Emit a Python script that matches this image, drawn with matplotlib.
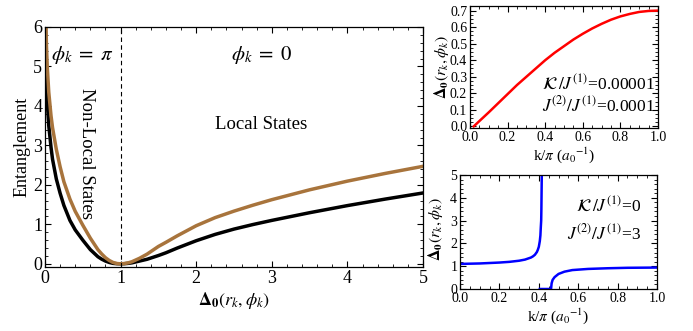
"""Entanglement vs Delta_0 (left) and Delta_0 dispersion for two couplings (right)."""

import matplotlib

matplotlib.use("Agg")
import matplotlib.pyplot as plt
from matplotlib.ticker import MultipleLocator

plt.rcParams["font.family"] = ["Liberation Serif", "DejaVu Serif"]
plt.rcParams["mathtext.fontset"] = "stix"

# Left panel: entanglement against Delta_0 for the two curves.
DELTA_B = [0.006, 0.01, 0.015, 0.02, 0.03, 0.05, 0.08, 0.1, 0.15, 0.2, 0.25, 0.33,
           0.4, 0.5, 0.6, 0.7, 0.75, 0.8, 0.85, 0.9, 0.95, 1.0, 1.05, 1.1, 1.15,
           1.25, 1.35, 1.5, 1.6, 1.75, 2.0, 2.25, 2.5, 2.75, 3.0, 3.5, 4.0, 4.5, 5.0]
E_BLACK = [6.1, 5.5, 5.0, 4.6, 4.1, 3.5, 2.95, 2.65, 2.15, 1.79, 1.48, 1.1,
           0.86, 0.6, 0.36, 0.18, 0.118, 0.07, 0.035, 0.012, 0.003, 0.0, 0.003, 0.012, 0.025,
           0.07, 0.115, 0.21, 0.28, 0.4, 0.585, 0.745, 0.88, 0.995, 1.1, 1.295, 1.475,
           1.64, 1.795]
DELTA_R = [0.012, 0.015, 0.02, 0.03, 0.05, 0.08, 0.1, 0.15, 0.2, 0.25, 0.33,
           0.4, 0.5, 0.6, 0.7, 0.75, 0.8, 0.85, 0.9, 0.95, 1.0, 1.05, 1.1, 1.15,
           1.25, 1.35, 1.5, 1.6, 1.75, 2.0, 2.25, 2.5, 2.75, 3.0, 3.5, 4.0, 4.5, 5.0]
E_BROWN = [6.15, 5.9, 5.5, 5.0, 4.35, 3.75, 3.45, 2.9, 2.46, 2.08, 1.64,
           1.33, 0.98, 0.65, 0.36, 0.25, 0.155, 0.085, 0.035, 0.008, 0.0, 0.007, 0.025, 0.053,
           0.14, 0.245, 0.44, 0.545, 0.71, 0.965, 1.17, 1.335, 1.485, 1.625, 1.875, 2.095,
           2.29, 2.47]

# Top right: K/J1 = 1e-5, J2/J1 = 1e-4.
K_TOP = [0.02, 0.05, 0.1, 0.15, 0.2, 0.25, 0.3, 0.35, 0.4, 0.45, 0.5, 0.55, 0.6,
         0.65, 0.7, 0.75, 0.8, 0.85, 0.9, 0.95, 1.0]
D_TOP = [0.0, 0.032, 0.085, 0.14, 0.195, 0.25, 0.3, 0.35, 0.4, 0.445, 0.485, 0.525,
         0.56, 0.592, 0.62, 0.645, 0.665, 0.68, 0.692, 0.698, 0.70]

# Bottom right: K/J1 = 0, J2/J1 = 3 (left branch diverges, right branch starts at 0).
K_BOT_L = [0.0, 0.1, 0.2, 0.25, 0.3, 0.33, 0.36, 0.37, 0.38, 0.39, 0.395, 0.4,
           0.405, 0.408, 0.41, 0.412, 0.413, 0.415]
D_BOT_L = [1.1, 1.12, 1.16, 1.19, 1.24, 1.29, 1.38, 1.43, 1.5, 1.62, 1.72, 1.85,
           2.1, 2.35, 2.7, 3.0, 3.5, 5.0]
K_BOT_R = [0.405, 0.462, 0.465, 0.47, 0.48, 0.5, 0.53, 0.57, 0.65, 0.75, 0.85, 1.0]
D_BOT_R = [0.0, 0.0, 0.25, 0.4, 0.52, 0.66, 0.76, 0.83, 0.88, 0.91, 0.93, 0.94]

BROWN = "#a8743c"
D0_LABEL = r"$\mathbf{\Delta_0}(\boldsymbol{r_k},\boldsymbol{\phi_k})$"
K_LABEL = r"k/$\pi$ ($a_0{}^{-1}$)"


def _frame(ax, xmajor, xminor, ymajor, yminor, size):
    """Mathematica-style frame: inward ticks on all four sides."""
    ax.xaxis.set_major_locator(MultipleLocator(xmajor))
    ax.xaxis.set_minor_locator(MultipleLocator(xminor))
    ax.yaxis.set_major_locator(MultipleLocator(ymajor))
    ax.yaxis.set_minor_locator(MultipleLocator(yminor))
    ax.tick_params(which="both", direction="in", top=True, right=True, labelsize=size, pad=2)
    ax.tick_params(which="major", length=4, width=0.8)
    ax.tick_params(which="minor", length=2, width=0.6)
    for spine in ax.spines.values():
        spine.set_linewidth(0.9)


fig = plt.figure(figsize=(6.93, 3.31), dpi=100)

# ---- left panel
ax = fig.add_axes([0.0649, 0.1934, 0.5455, 0.7251])
ax.plot(DELTA_B, E_BLACK, color="black", lw=2.5)
ax.plot(DELTA_R, E_BROWN, color=BROWN, lw=2.5)
ax.axvline(1.0, color="black", ls=(0, (4, 3)), lw=0.8)
ax.set_xlim(0, 5)
ax.set_ylim(-0.08, 6)
_frame(ax, 1, 0.2, 1, 0.2, 13)
ax.set_xlabel(D0_LABEL, fontsize=13, labelpad=2)
ax.set_ylabel("Entanglement", fontsize=13, labelpad=2)
ax.text(0.49, 5.3, r"$\phi_k\;=\;\pi$", fontsize=15, ha="center", va="center")
ax.text(2.87, 5.3, r"$\phi_k\;=\;0$", fontsize=15, ha="center", va="center")
ax.text(2.86, 3.52, "Local States", fontsize=13.5, ha="center", va="center")
ax.text(0.55, 2.8, "Non-Local States", fontsize=13.5, ha="center", va="center",
        rotation=270)

# ---- top right panel
ax = fig.add_axes([0.6782, 0.6133, 0.2713, 0.3671])
ax.plot(K_TOP, D_TOP, color="red", lw=1.8)
ax.set_xlim(0, 1)
ax.set_ylim(-0.01, 0.725)
_frame(ax, 0.2, 0.05, 0.1, 0.025, 10)
ax.set_xlabel(K_LABEL, fontsize=11, labelpad=1)
ax.set_ylabel(D0_LABEL, fontsize=11.5)
ax.yaxis.set_label_coords(-0.1, 0.5)
ax.text(0.985, 0.26, r"$\mathcal{K}\,/J^{(1)}$=0.00001", fontsize=12.5, ha="right", va="center")
ax.text(0.985, 0.128, r"$J^{(2)}/J^{(1)}$=0.0001", fontsize=12.5, ha="right", va="center")

# ---- bottom right panel
ax = fig.add_axes([0.6638, 0.1269, 0.2843, 0.3444])
ax.plot(K_BOT_L, D_BOT_L, color="blue", lw=1.8)
ax.plot(K_BOT_R, D_BOT_R, color="blue", lw=1.8)
ax.set_xlim(0, 1)
ax.set_ylim(0, 5)
_frame(ax, 0.2, 0.05, 1, 0.2, 10)
ax.set_xlabel(K_LABEL, fontsize=11, labelpad=1)
ax.set_ylabel(D0_LABEL, fontsize=11.5)
ax.yaxis.set_label_coords(-0.075, 0.53)
ax.text(0.92, 3.68, r"$\mathcal{K}\,/J^{(1)}$=0", fontsize=12.5, ha="right", va="center")
ax.text(0.92, 2.46, r"$J^{(2)}/J^{(1)}$=3", fontsize=12.5, ha="right", va="center")

fig.savefig("out.png", dpi=100)
